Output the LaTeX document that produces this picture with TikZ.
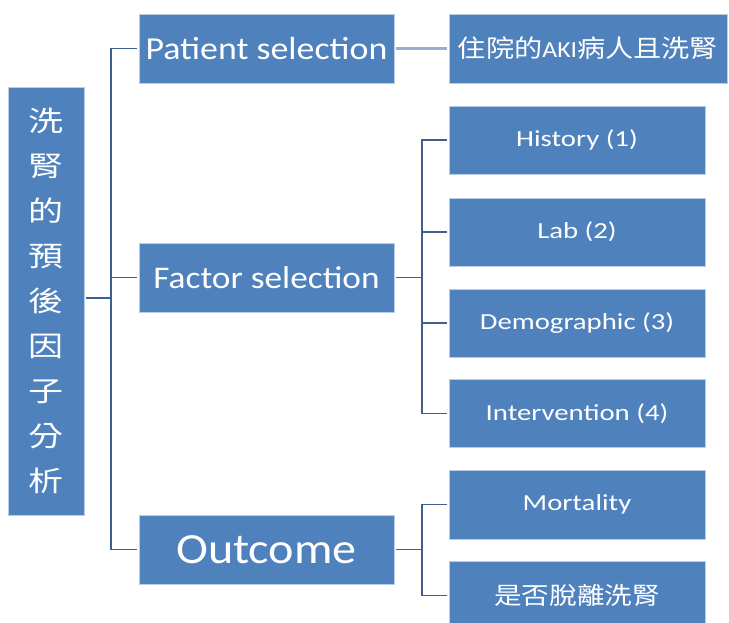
\documentclass[tikz,border=0pt]{standalone}
\usepackage{fontspec}
\setmainfont{Carlito}[FakeStretch=1.12]
\newfontfamily\wide{Carlito}[FakeStretch=1.25]
\newfontfamily\cjk{Noto Sans CJK TC}[FakeStretch=1.15]
\newfontfamily\cjkwide{Noto Sans CJK TC}[FakeStretch=1.25]
\definecolor{boxblue}{HTML}{4F81BD}
\definecolor{boxedge}{HTML}{B9CDE5}
\definecolor{linecol}{HTML}{3F5F8C}
\definecolor{lightline}{HTML}{9AAECB}
\tikzset{
  box/.style={draw=boxedge, line width=0.8pt, fill=boxblue, text=white, inner sep=0pt, outer sep=2pt, align=center},
  mid/.style={box, minimum width=255pt, minimum height=69pt},
  leaf/.style={box, minimum width=256pt, minimum height=68pt, font=\wide\fontsize{23}{26}\selectfont},
  conn/.style={draw=linecol, line width=1.8pt},
}
\begin{document}
\begin{tikzpicture}[x=1pt,y=-1pt]
\useasboundingbox (0,0) rectangle (729,622);
\clip (0,0) rectangle (729,622);
\node[box, minimum width=76pt, minimum height=428pt, font=\cjkwide\fontsize{28}{45}\selectfont] (L) at (46,301) {洗\\腎\\的\\預\\後\\因\\子\\分\\析};
\node[mid, font=\fontsize{32}{36}\selectfont] (P) at (266.5,48.5) {Patient selection};
\node[mid, font=\fontsize{31.5}{36}\selectfont] (F) at (266.5,277.5) {Factor selection};
\node[mid, font=\fontsize{43}{46}\selectfont] (O) at (266.5,549.5) {Outcome};
\node[box, minimum width=278pt, minimum height=69pt, font=\fontsize{23}{26}\selectfont] (A) at (588,48.5) {{\cjk\fontsize{24.5}{26}\selectfont 住院的}AKI{\cjk\fontsize{24.5}{26}\selectfont 病人且洗腎}};
\node[leaf] (H) at (577,140) {History (1)};
\node[leaf] (B) at (577,232) {Lab (2)};
\node[leaf] (D) at (577,323) {Demographic (3)};
\node[leaf] (I) at (577,413.5) {Intervention (4)};
\node[leaf, minimum height=69pt] (M) at (577,504.5) {Mortality};
\node[leaf, minimum height=69pt, font=\cjk\fontsize{24}{26}\selectfont] (S) at (577,595.5) {是否脫離洗腎};
\coordinate (t) at (111,0);
\coordinate (u) at (422,0);
\draw[conn] (L.east |- 0,298) -- (t |- 0,298);
\draw[conn] (P.west) -- (P.west -| t) -- (O.west -| t) -- (O.west);
\draw[conn] (F.west) -- (F.west -| t);
\draw[draw=lightline, line width=2.2pt] (P.east) -- (A.west);
\draw[conn] (F.east) -- (F.east -| u);
\draw[conn] (H.west) -- (H.west -| u) -- (I.west -| u) -- (I.west);
\draw[conn] (B.west) -- (B.west -| u);
\draw[conn] (D.west) -- (D.west -| u);
\draw[conn] (O.east) -- (O.east -| u);
\draw[conn] (M.west) -- (M.west -| u) -- (S.west -| u) -- (S.west);
\end{tikzpicture}
\end{document}
